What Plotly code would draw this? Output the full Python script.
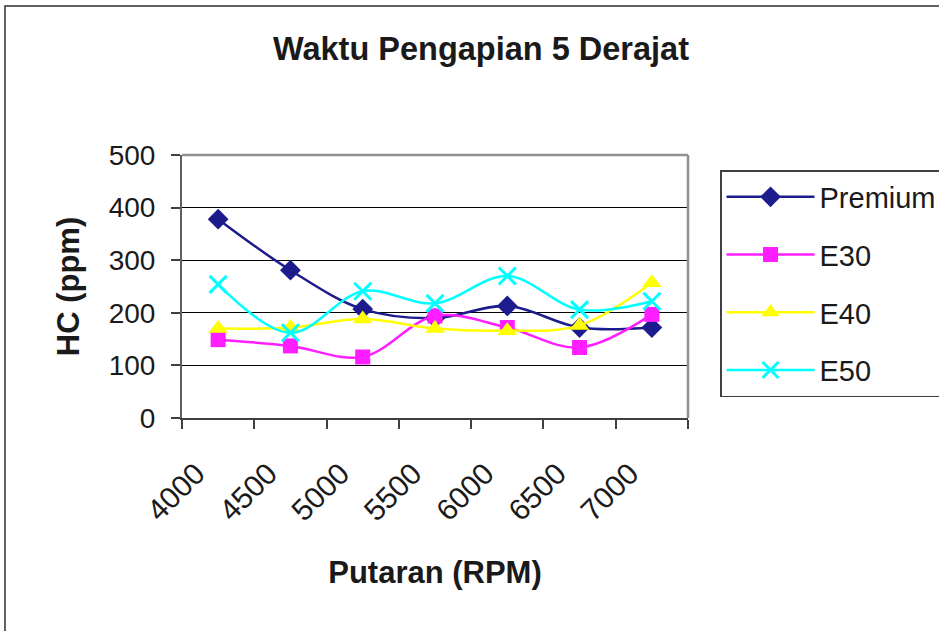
import plotly.graph_objects as go

rpm = ["4000", "4500", "5000", "5500", "6000", "6500", "7000"]
premium = [378, 281, 207, 190, 213, 172, 172]
e30 = [149, 137, 116, 194, 172, 134, 197]
e40 = [170, 172, 188, 170, 166, 176, 257]
e50 = [254, 162, 241, 218, 270, 206, 222]

W, H = 939, 631
L, R, T, B = 182, 688, 155, 418

FONT = "Liberation Sans, Arial, sans-serif"

series = [
    ("Premium", premium, "#1C1C8C", dict(symbol="diamond", size=16, color="#1C1C8C")),
    ("E30", e30, "#FF1EFF", dict(symbol="square", size=15, color="#FF1EFF")),
    ("E40", e40, "#FFFF00", dict(symbol="triangle-up", size=17, color="#FFFF00")),
    ("E50", e50, "#00FFFF", dict(symbol="x-thin-open", size=17, color="#00FFFF",
                                 line=dict(width=3, color="#00FFFF"))),
]

fig = go.Figure()
for i, (name, vals, col, mk) in enumerate(series):
    fig.add_trace(go.Scatter(
        x=rpm, y=vals, name=name, mode="lines+markers",
        line=dict(color=col, width=2.5, shape="spline", smoothing=1.0),
        marker=mk, legendgroup=f"g{i}",
    ))

def px_x(px):
    return (px - L) / (R - L)

def px_y(py):
    return (B - py) / (B - T)

fig.update_layout(
    width=W, height=H,
    margin=dict(l=L, r=W - R, t=T, b=H - B, autoexpand=False),
    paper_bgcolor="white", plot_bgcolor="white",
    font=dict(family=FONT, color="#1a1a1a"),
    title=dict(text="<b>Waktu Pengapian 5 Derajat</b>", x=px_x(481), xref="paper",
               xanchor="center", y=1 - 49 / H, yanchor="middle",
               font=dict(size=32.5, family=FONT, color="#1a1a1a")),
    showlegend=True,
    legend=dict(x=px_x(720), y=px_y(170), xanchor="left", yanchor="top",
                bordercolor="#404040", borderwidth=1.5, bgcolor="white",
                font=dict(size=29, family=FONT, color="#1a1a1a"),
                itemwidth=88, tracegroupgap=17, traceorder="grouped",
                entrywidth=150, entrywidthmode="pixels"),
    xaxis=dict(
        type="category", range=[-0.5, 6.5], tickson="boundaries",
        ticks="outside", ticklen=9, tickcolor="#404040", tickwidth=1.5,
        showline=True, linecolor="#404040", linewidth=2, showgrid=False,
        tickangle=-45, tickfont=dict(size=30, family=FONT, color="#1a1a1a"),
        ticklabelstandoff=24, ticklabelshift=-22,
        title=dict(text="<b>Putaran (RPM)</b>", font=dict(size=31, family=FONT, color="#1a1a1a"),
                   standoff=35),
        zeroline=False,
    ),
    yaxis=dict(
        range=[0, 500], dtick=100, tick0=0,
        ticks="outside", ticklen=9, tickcolor="#404040", tickwidth=1.5,
        showline=True, linecolor="#606060", linewidth=2,
        showgrid=True, gridcolor="#000000", gridwidth=1,
        tickfont=dict(size=28, family=FONT, color="#1a1a1a"),
        ticklabelstandoff=10,
        title=dict(text="<b>HC (ppm)</b>", font=dict(size=31, family=FONT, color="#1a1a1a"),
                   standoff=20),
        zeroline=False,
    ),
)

# plot-area frame (top/right gray)
fig.add_shape(type="line", xref="paper", yref="paper", x0=0, x1=1, y0=1, y1=1,
              line=dict(color="#909090", width=2.5))
fig.add_shape(type="line", xref="paper", yref="paper", x0=1, x1=1, y0=0, y1=1,
              line=dict(color="#909090", width=2.5))
# outer chart border
fig.add_shape(type="rect", xref="paper", yref="paper",
              x0=px_x(5), x1=px_x(960), y0=px_y(650), y1=px_y(6),
              line=dict(color="#303030", width=1.5), layer="below")

fig.write_html("out.html", config={"displayModeBar": False},
               post_script="document.body.style.margin='0';")
